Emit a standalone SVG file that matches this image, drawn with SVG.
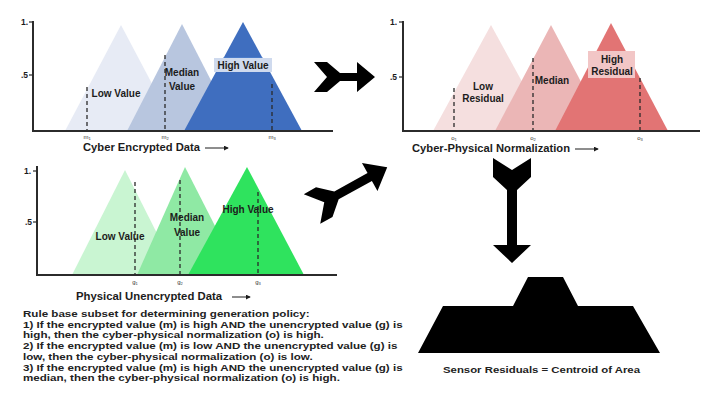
<svg xmlns="http://www.w3.org/2000/svg" width="704" height="412" viewBox="0 0 704 412">
  <style>
    .axis { stroke: #2b2b2b; stroke-width: 2; fill: none; }
    .tick { stroke: #2b2b2b; stroke-width: 1.2; }
    .dash { stroke: #2a2a2a; stroke-width: 1.3; stroke-dasharray: 4 3; fill: none; }
    .lbl { font-family: "Liberation Sans", Arial, sans-serif; font-weight: bold; font-size: 10px; fill: #1c1c1c; text-anchor: middle; }
    .ylbl { font-family: "Liberation Sans", Arial, sans-serif; font-weight: bold; font-size: 8.5px; fill: #1c1c1c; text-anchor: end; }
    .sub { font-family: "Liberation Sans", Arial, sans-serif; font-size: 6px; fill: #333; text-anchor: middle; }
    .title { font-family: "Liberation Sans", Arial, sans-serif; font-weight: bold; font-size: 10.5px; fill: #1c1c1c; }
    .rule { font-family: "Liberation Sans", Arial, sans-serif; font-weight: bold; font-size: 9.4px; fill: #222; }
    .axarrow { stroke: #1c1c1c; stroke-width: 1; fill: none; }
    .big { fill: #000; }
  </style>
  <defs>
    <marker id="tip" viewBox="0 0 6 6" refX="5" refY="3" markerWidth="5" markerHeight="5" orient="auto">
      <path d="M0,0 L6,3 L0,6 Z" fill="#1c1c1c"/>
    </marker>
  </defs>
  <rect width="704" height="412" fill="#ffffff"/>

  <!-- Cyber encrypted data membership functions -->
  <g id="cyber-encrypted">
    <polygon points="65,131 121,25 177,131" fill="#e7ebf5"/>
    <polygon points="127,131 182,24 237,131" fill="#b8c6df"/>
    <polygon points="184,131 243,22 302,131" fill="#3f6ebf"/>
    <polygon points="224,57 262,57 270,72 216,72" fill="#4a7bc9"/>
    <rect x="214" y="58" width="58" height="14" fill="#cfdaee"/>
    <line class="dash" x1="87" y1="87" x2="87" y2="131"/>
    <line class="dash" x1="165" y1="55" x2="165" y2="131"/>
    <line class="dash" x1="272" y1="84" x2="272" y2="131"/>
    <path class="axis" d="M33,21 V131 H333"/>
    <line class="tick" x1="29" y1="22" x2="33" y2="22"/>
    <line class="tick" x1="29" y1="75" x2="33" y2="75"/>
    <text class="ylbl" x="28" y="25">1.</text>
    <text class="ylbl" x="28" y="78">.5</text>
    <text class="lbl" x="116" y="97">Low Value</text>
    <text class="lbl" x="182" y="76">Median</text>
    <text class="lbl" x="182" y="90">Value</text>
    <text class="lbl" x="243" y="69">High Value</text>
    <text class="sub" x="87" y="139">m<tspan font-size="4" dy="1">1</tspan></text>
    <text class="sub" x="165" y="139">m<tspan font-size="4" dy="1">2</tspan></text>
    <text class="sub" x="272" y="139">m<tspan font-size="4" dy="1">3</tspan></text>
    <text class="title" x="83" y="151" textLength="117" lengthAdjust="spacingAndGlyphs">Cyber Encrypted Data</text>
    <line class="axarrow" x1="205" y1="148" x2="228" y2="148" marker-end="url(#tip)"/>
  </g>

  <!-- Cyber-physical normalization membership functions -->
  <g id="cyber-physical">
    <polygon points="433,131 491,25 549,131" fill="#f5dfdf"/>
    <polygon points="495,131 551,25 607,131" fill="#ebb6b6"/>
    <polygon points="555,131 611,23 668,131" fill="#e27474"/>
    <rect x="588" y="51" width="47" height="27" fill="#f2c6c6"/>
    <line class="dash" x1="454" y1="88" x2="454" y2="131"/>
    <line class="dash" x1="533" y1="58" x2="533" y2="131"/>
    <line class="dash" x1="640" y1="78" x2="640" y2="131"/>
    <path class="axis" d="M403,21 V131 H700"/>
    <line class="tick" x1="399" y1="22" x2="403" y2="22"/>
    <line class="tick" x1="399" y1="77" x2="403" y2="77"/>
    <text class="ylbl" x="397" y="25">1.</text>
    <text class="ylbl" x="397" y="80">.5</text>
    <text class="lbl" x="483" y="90">Low</text>
    <text class="lbl" x="483" y="102">Residual</text>
    <text class="lbl" x="552" y="84">Median</text>
    <text class="lbl" x="612" y="63">High</text>
    <text class="lbl" x="612" y="75">Residual</text>
    <text class="sub" x="454" y="140">o<tspan font-size="4" dy="1">1</tspan></text>
    <text class="sub" x="533" y="140">o<tspan font-size="4" dy="1">2</tspan></text>
    <text class="sub" x="640" y="140">o<tspan font-size="4" dy="1">3</tspan></text>
    <text class="title" x="412" y="152" textLength="158" lengthAdjust="spacingAndGlyphs">Cyber-Physical Normalization</text>
    <line class="axarrow" x1="575" y1="149" x2="598" y2="149" marker-end="url(#tip)"/>
  </g>

  <!-- Physical unencrypted data membership functions -->
  <g id="physical-unencrypted">
    <polygon points="72,275 125,170 178,275" fill="#c9f5d2"/>
    <polygon points="137,275 185,167 240,275" fill="#8fe9a4"/>
    <polygon points="188,275 247,167 304,275" fill="#2fe35e"/>
    <line class="dash" x1="135" y1="182" x2="135" y2="275"/>
    <line class="dash" x1="180" y1="180" x2="180" y2="275"/>
    <line class="dash" x1="258" y1="192" x2="258" y2="275"/>
    <path class="axis" d="M37,166 V275 H337"/>
    <line class="tick" x1="33" y1="171" x2="37" y2="171"/>
    <line class="tick" x1="33" y1="222" x2="37" y2="222"/>
    <text class="ylbl" x="31" y="174">1.</text>
    <text class="ylbl" x="32" y="225">.5</text>
    <text class="lbl" x="120" y="240">Low Value</text>
    <text class="lbl" x="187" y="221">Median</text>
    <text class="lbl" x="187" y="236">Value</text>
    <text class="lbl" x="248" y="213">High Value</text>
    <text class="sub" x="135" y="284">g<tspan font-size="4" dy="1">1</tspan></text>
    <text class="sub" x="180" y="284">g<tspan font-size="4" dy="1">2</tspan></text>
    <text class="sub" x="258" y="284">g<tspan font-size="4" dy="1">3</tspan></text>
    <text class="title" x="76" y="300" textLength="146" lengthAdjust="spacingAndGlyphs">Physical Unencrypted Data</text>
    <line class="axarrow" x1="232" y1="297" x2="250" y2="297" marker-end="url(#tip)"/>
  </g>

  <!-- Defuzzified output area -->
  <g id="centroid-area">
    <polygon class="big" points="418,353 443,306 513,306 528,277 563,277 578,306 633,306 660,353"/>
    <text class="rule" x="443" y="373" textLength="197" lengthAdjust="spacingAndGlyphs">Sensor Residuals = Centroid of Area</text>
  </g>

  <!-- Rule base text, set slightly wide -->
  <g id="rule-base" transform="translate(23,0) scale(1.235,1)">
    <text class="rule" x="0" y="317">Rule base subset for determining generation policy:</text>
    <text class="rule" x="0" y="328">1) If the encrypted value (m) is high AND the unencrypted value (g) is</text>
    <text class="rule" x="0" y="338.5">high, then the cyber-physical normalization (o) is high.</text>
    <text class="rule" x="0" y="349">2) If the encrypted value (m) is low AND the unencrypted value (g) is</text>
    <text class="rule" x="0" y="360">low, then the cyber-physical normalization (o) is low.</text>
    <text class="rule" x="0" y="371">3) If the encrypted value (m) is high AND the unencrypted value (g) is</text>
    <text class="rule" x="0" y="381.5">median, then the cyber-physical normalization (o) is high.</text>
  </g>

  <!-- Flow arrows between stages -->
  <g id="connectors">
    <polygon class="big" points="314,62 327,62 340,73 357,73 357,62 375,77 357,92 357,81 340,81 327,92 314,92 327,77"/>
    <polygon class="big" transform="translate(312,209) rotate(-29)" points="0,-17 14,-17 28,-4.5 66,-4.5 66,-16 86,0 66,16 66,4.5 28,4.5 14,17 0,17 14,0"/>
    <polygon class="big" points="493,158 512,170 531,158 531,177 517,190 517,245 531,245 512,263 493,245 507,245 507,190 493,177"/>
  </g>
</svg>
